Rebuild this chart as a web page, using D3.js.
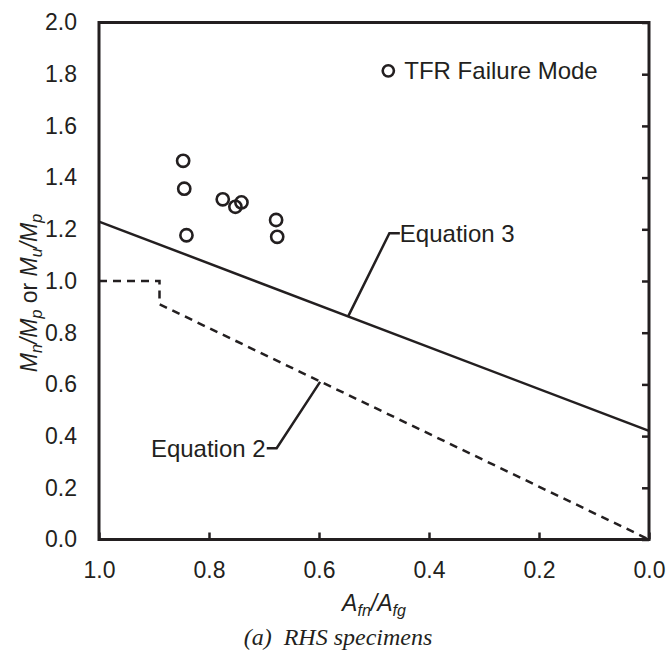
<!DOCTYPE html>
<html>
<head>
<meta charset="utf-8">
<script src="https://cdn.jsdelivr.net/npm/d3@7"></script>
<style>
  body { margin: 0; background: #fff; }
  svg text { font-family: "Liberation Sans", Arial, sans-serif; fill: #231f20; }
</style>
</head>
<body>
<div id="chart"></div>
<script>
// TFR specimens
var tfrX = [0.847, 0.845, 0.841, 0.775, 0.752, 0.741, 0.678, 0.676];
var tfrY = [1.465, 1.357, 1.177, 1.316, 1.287, 1.304, 1.236, 1.171];

// design equations
var eq3X = [1.0, 0.0];
var eq3Y = [1.23, 0.42];
var eq2X = [1.0, 0.89, 0.89, 0.0];
var eq2Y = [1.0, 1.0, 0.91, 0.0];

var xTicks = [1.0, 0.8, 0.6, 0.4, 0.2, 0.0];
var yTicks = [0.0, 0.2, 0.4, 0.6, 0.8, 1.0, 1.2, 1.4, 1.6, 1.8, 2.0];

var width = 668, height = 650;
var ink = "#231f20";

var svg = d3.select("#chart").append("svg")
  .attr("width", width)
  .attr("height", height);

// plot box
var x = d3.scaleLinear().domain([1.0, 0.0]).range([99, 649]);
var y = d3.scaleLinear().domain([0.0, 2.0]).range([539.5, 22.5]);

var line = d3.line()
  .x(function(d) { return x(d[0]); })
  .y(function(d) { return y(d[1]); });

// bottom axis, ticks point inside
var xAxis = d3.axisBottom(x).tickValues(xTicks).tickSizeInner(-7).tickSizeOuter(0)
  .tickPadding(22).tickFormat(d3.format(".1f"));
var gx = svg.append("g").attr("transform", "translate(0," + y(0) + ")").call(xAxis);

// right axis, ticks point inside, no labels
var rAxis = d3.axisRight(y).tickValues(yTicks).tickSizeInner(-7).tickSizeOuter(0).tickFormat("");
var gr = svg.append("g").attr("transform", "translate(" + x(0) + ",0)").call(rAxis);

// left axis, labels only
var lAxis = d3.axisLeft(y).tickValues(yTicks).tickSize(0).tickPadding(22).tickFormat(d3.format(".1f"));
var gl = svg.append("g").attr("transform", "translate(" + x(1) + ",0)").call(lAxis);

[gx, gr, gl].forEach(function(g) {
  g.select(".domain").remove();
  g.selectAll("line").attr("stroke", ink).attr("stroke-width", 2.5);
  g.selectAll("text").style("font-size", "23px").attr("fill", ink);
});
gx.selectAll("text").attr("dy", "0.71em");

// frame
svg.append("rect")
  .attr("x", x(1)).attr("y", y(2))
  .attr("width", x(0) - x(1)).attr("height", y(0) - y(2))
  .attr("fill", "none").attr("stroke", ink).attr("stroke-width", 3);

// Equation 3 (solid)
svg.append("path")
  .datum(eq3X.map(function(v, i) { return [v, eq3Y[i]]; }))
  .attr("d", line)
  .attr("fill", "none").attr("stroke", ink).attr("stroke-width", 2.5);

// Equation 2 (dashed)
svg.append("path")
  .datum(eq2X.map(function(v, i) { return [v, eq2Y[i]]; }))
  .attr("d", line)
  .attr("fill", "none").attr("stroke", ink).attr("stroke-width", 2.5)
  .attr("stroke-dasharray", "8,6");

// leader lines for the equation labels
svg.append("path")
  .datum([[0.547, 0.863], [0.472, 1.185], [0.453, 1.185]])
  .attr("d", line)
  .attr("fill", "none").attr("stroke", ink).attr("stroke-width", 2.5);
svg.append("text")
  .attr("x", x(0.453)).attr("y", y(1.185)).attr("dy", "0.36em")
  .style("font-size", "24px").text("Equation 3");

svg.append("path")
  .datum([[0.598, 0.61], [0.677, 0.353], [0.695, 0.353]])
  .attr("d", line)
  .attr("fill", "none").attr("stroke", ink).attr("stroke-width", 2.5);
svg.append("text")
  .attr("x", x(0.697)).attr("y", y(0.353)).attr("dy", "0.36em")
  .attr("text-anchor", "end")
  .style("font-size", "24px").text("Equation 2");

// TFR points
svg.append("g").selectAll("circle")
  .data(tfrX.map(function(v, i) { return [v, tfrY[i]]; }))
  .join("circle")
  .attr("cx", function(d) { return x(d[0]); })
  .attr("cy", function(d) { return y(d[1]); })
  .attr("r", 6.1)
  .attr("fill", "none").attr("stroke", ink).attr("stroke-width", 2.6);

// legend
svg.append("circle")
  .attr("cx", x(0.474)).attr("cy", y(1.813)).attr("r", 5.6)
  .attr("fill", "none").attr("stroke", ink).attr("stroke-width", 2.6);
svg.append("text")
  .attr("x", x(0.474) + 16).attr("y", y(1.813)).attr("dy", "0.36em")
  .style("font-size", "24px").text("TFR Failure Mode");

// x title: A_fn / A_fg
var xt = svg.append("text")
  .attr("x", (x(1) + x(0)) / 2).attr("y", 611)
  .attr("text-anchor", "middle")
  .style("font-size", "23px").style("font-style", "italic");
xt.append("tspan").text("A");
xt.append("tspan").attr("dy", 5).style("font-size", "16px").text("fn");
xt.append("tspan").attr("dy", -5).text("/A");
xt.append("tspan").attr("dy", 5).style("font-size", "16px").text("fg");

// y title: M_n/M_p or M_u/M_p
var yt = svg.append("text")
  .attr("transform", "translate(37,293) rotate(-90)")
  .attr("text-anchor", "middle")
  .style("font-size", "23px");
function sub(t) {
  yt.append("tspan").attr("dy", 5).style("font-size", "16px").style("font-style", "italic").text(t);
}
yt.append("tspan").style("font-style", "italic").text("M");
sub("n");
yt.append("tspan").attr("dy", -5).style("font-style", "italic").text("/M");
sub("p");
yt.append("tspan").attr("dy", -5).text(" or ");
yt.append("tspan").style("font-style", "italic").text("M");
sub("u");
yt.append("tspan").attr("dy", -5).style("font-style", "italic").text("/M");
sub("p");

// caption
svg.append("text")
  .attr("x", 338).attr("y", 645)
  .attr("text-anchor", "middle")
  .style("font-family", "'Liberation Serif', 'Times New Roman', serif")
  .style("font-style", "italic").style("font-size", "24px")
  .text("(a)\u00a0 RHS specimens");
</script>
</body>
</html>
